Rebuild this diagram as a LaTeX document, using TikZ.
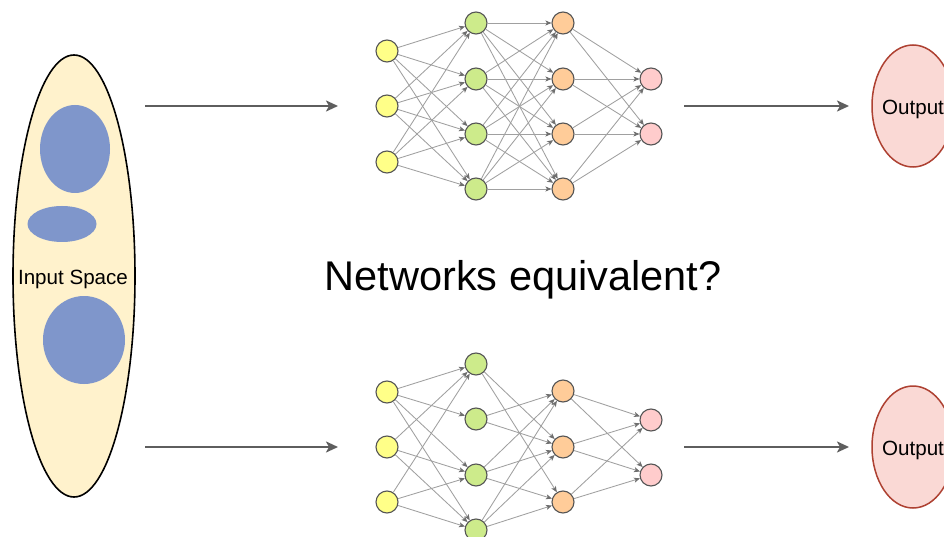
\documentclass[tikz,border=0pt]{standalone}
\usepackage{fontspec}
\setmainfont{Liberation Sans}
\usetikzlibrary{arrows.meta,shapes.geometric}
\definecolor{inyel}{HTML}{FFF2CC}
\definecolor{blob}{HTML}{7F96CB}
\definecolor{outfill}{HTML}{FAD9D5}
\definecolor{outdraw}{HTML}{AE4132}
\definecolor{nyel}{HTML}{FFFF88}
\definecolor{ngreen}{HTML}{CDEB8B}
\definecolor{norange}{HTML}{FFCC99}
\definecolor{npink}{HTML}{FFCCCC}
\definecolor{nborder}{HTML}{555555}
\definecolor{edgegray}{HTML}{A0A0A0}
\definecolor{edgetip}{HTML}{6E6E6E}
\definecolor{bigarrow}{HTML}{5E5E5E}
\begin{document}
\begin{tikzpicture}[x=1pt,y=-1pt,
  neuron/.style={circle,draw=nborder,line width=1.1pt,minimum size=22pt,inner sep=0pt},
  nin/.style={neuron,fill=nyel},
  nh1/.style={neuron,fill=ngreen},
  nh2/.style={neuron,fill=norange},
  nout/.style={neuron,fill=npink},
  edge/.style={draw=edgegray,line width=0.85pt,-{Stealth[length=6pt,width=5pt,inset=1.5pt,color=edgetip]}},
  bigedge/.style={draw=bigarrow,line width=2.2pt,-{Stealth[length=12pt,width=11pt,inset=3pt]}},
  blobnode/.style={ellipse,fill=blob,inner sep=0pt},
  lbl/.style={inner sep=0pt,font=\fontsize{20.6}{24}\selectfont},
  outnode/.style={ellipse,fill=outfill,draw=outdraw,line width=1.5pt,minimum width=82pt,minimum height=122pt,inner sep=0pt}
]
\useasboundingbox (0,0) rectangle (944,537);
\clip (0,0) rectangle (944,537);
\fill[white] (0,0) rectangle (944,537);

% input space
\node[ellipse,fill=inyel,draw=black,line width=1.6pt,minimum width=122pt,minimum height=442pt,inner sep=0pt] (inspace) at (74,276) {};
\node[lbl] (inlabel) at (73,279) {Input Space};
\node[blobnode,minimum width=70pt,minimum height=88pt] (b1) at (75,149) {};
\node[blobnode,minimum width=69pt,minimum height=36pt] (b2) at (62,224) {};
\node[blobnode,minimum width=82pt,minimum height=88pt] (b3) at (84,340) {};

% outputs
\node[outnode] (o1) at (913,106) {};
\node[lbl] (o1label) at (913,109) {Output};
\node[outnode] (o2) at (913,447) {};
\node[lbl] (o2label) at (913,450) {Output};

% title
\node[font=\fontsize{41.5}{48}\selectfont,inner sep=0pt] (title) at (523,280) {Networks equivalent?};

% big arrows
\coordinate (a1s) at (145,106); \coordinate (a1e) at (338,106);
\coordinate (a2s) at (145,447); \coordinate (a2e) at (338,447);
\coordinate (a3s) at (684,106); \coordinate (a3e) at (849,106);
\coordinate (a4s) at (684,447); \coordinate (a4e) at (849,447);
\draw[bigedge] (a1s) -- (a1e);
\draw[bigedge] (a2s) -- (a2e);
\draw[bigedge] (a3s) -- (a3e);
\draw[bigedge] (a4s) -- (a4e);

% top network
\foreach \i/\y in {1/51,2/106,3/162} \node[nin] (ti\i) at (387,\y) {};
\foreach \i/\y in {1/23,2/79,3/134,4/189} \node[nh1] (ta\i) at (476,\y) {};
\foreach \i/\y in {1/23,2/79,3/134,4/189} \node[nh2] (tb\i) at (563,\y) {};
\foreach \i/\y in {1/79,2/134} \node[nout] (to\i) at (651,\y) {};
\foreach \i in {1,2,3} \foreach \j in {1,2,3,4} \draw[edge] (ti\i) -- (ta\j);
\foreach \i in {1,2,3,4} \foreach \j in {1,2,3,4} \draw[edge] (ta\i) -- (tb\j);
\foreach \i in {1,2,3,4} \foreach \j in {1,2} \draw[edge] (tb\i) -- (to\j);

% bottom network
\foreach \i/\y in {1/392,2/447,3/502} \node[nin] (bi\i) at (387,\y) {};
\foreach \i/\y in {1/364,2/419,3/475,4/530} \node[nh1] (ba\i) at (476,\y) {};
\foreach \i/\y in {1/391,2/447,3/502} \node[nh2] (bb\i) at (563,\y) {};
\foreach \i/\y in {1/420,2/475} \node[nout] (bo\i) at (651,\y) {};
\foreach \i/\j in {1/1,1/2,1/3,1/4,2/1,2/3,2/4,3/1,3/3,3/4} \draw[edge] (bi\i) -- (ba\j);
\foreach \i/\j in {1/2,1/3,2/1,2/2,3/1,3/2,3/3,4/1,4/2,4/3} \draw[edge] (ba\i) -- (bb\j);
\foreach \i in {1,2,3} \foreach \j in {1,2} \draw[edge] (bb\i) -- (bo\j);
\end{tikzpicture}
\end{document}
